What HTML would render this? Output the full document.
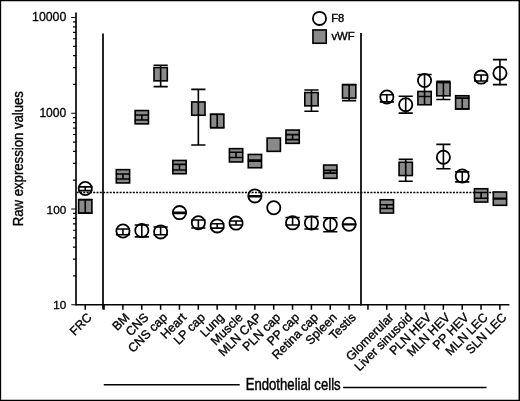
<!DOCTYPE html>
<html lang="en">
<head>
<meta charset="utf-8">
<title>Raw expression values</title>
<style>
html,body{margin:0;padding:0;background:#fff;}
body{width:520px;height:401px;overflow:hidden;position:relative;font-family:"Liberation Sans",Arial,Helvetica,sans-serif;}
</style>
</head>
<body>
<svg width="520" height="401" viewBox="0 0 520 401" style="display:block;position:absolute;left:0;top:0" font-family="'Liberation Sans', Arial, Helvetica, sans-serif" fill="#000">
<rect x="0" y="0" width="520" height="401" fill="#fff"/>
<path d="M0 0H520V401H0Z M1.15 1.15V399.8H518.55V1.15Z" fill="#000" fill-rule="evenodd"/>
<circle cx="85.25" cy="188.50" r="6.6" fill="#fff" stroke="#000" stroke-width="1.8"/>
<path d="M85.25 186.90V190.60M78.15 186.90H92.35M78.15 190.60H92.35" stroke="#000" stroke-width="1.6" fill="none"/>
<circle cx="122.95" cy="231.00" r="6.6" fill="#fff" stroke="#000" stroke-width="1.8"/>
<path d="M122.95 229.00V234.80M115.85 229.00H130.05M115.85 234.80H130.05" stroke="#000" stroke-width="1.6" fill="none"/>
<circle cx="141.80" cy="230.50" r="6.6" fill="#fff" stroke="#000" stroke-width="1.8"/>
<path d="M141.80 225.00V236.90M134.70 225.00H148.90M134.70 236.90H148.90" stroke="#000" stroke-width="1.6" fill="none"/>
<circle cx="160.65" cy="231.90" r="6.6" fill="#fff" stroke="#000" stroke-width="1.8"/>
<path d="M160.65 227.00V234.75M153.55 227.00H167.75M153.55 234.75H167.75" stroke="#000" stroke-width="1.6" fill="none"/>
<circle cx="179.50" cy="212.60" r="6.6" fill="#fff" stroke="#000" stroke-width="1.8"/>
<path d="M179.50 212.20V213.40M172.40 212.20H186.60M172.40 213.40H186.60" stroke="#000" stroke-width="1.6" fill="none"/>
<circle cx="198.35" cy="222.80" r="6.6" fill="#fff" stroke="#000" stroke-width="1.8"/>
<path d="M198.35 220.00V228.00M191.25 220.00H205.45M191.25 228.00H205.45" stroke="#000" stroke-width="1.6" fill="none"/>
<circle cx="217.20" cy="225.90" r="6.6" fill="#fff" stroke="#000" stroke-width="1.8"/>
<path d="M217.20 223.75V228.10M210.10 223.75H224.30M210.10 228.10H224.30" stroke="#000" stroke-width="1.6" fill="none"/>
<circle cx="236.05" cy="223.10" r="6.6" fill="#fff" stroke="#000" stroke-width="1.8"/>
<path d="M236.05 221.00V225.00M228.95 221.00H243.15M228.95 225.00H243.15" stroke="#000" stroke-width="1.6" fill="none"/>
<circle cx="254.90" cy="195.90" r="6.6" fill="#fff" stroke="#000" stroke-width="1.8"/>
<path d="M254.90 195.70V196.70M247.80 195.70H262.00M247.80 196.70H262.00" stroke="#000" stroke-width="1.6" fill="none"/>
<circle cx="273.75" cy="207.70" r="6.6" fill="#fff" stroke="#000" stroke-width="1.8"/>
<circle cx="292.60" cy="222.85" r="6.6" fill="#fff" stroke="#000" stroke-width="1.8"/>
<path d="M292.60 217.50V225.00M285.50 217.50H299.70M285.50 225.00H299.70" stroke="#000" stroke-width="1.6" fill="none"/>
<circle cx="311.45" cy="222.90" r="6.6" fill="#fff" stroke="#000" stroke-width="1.8"/>
<path d="M311.45 216.50V229.00M304.35 216.50H318.55M304.35 229.00H318.55" stroke="#000" stroke-width="1.6" fill="none"/>
<circle cx="330.30" cy="224.50" r="6.6" fill="#fff" stroke="#000" stroke-width="1.8"/>
<path d="M330.30 217.70V231.80M323.20 217.70H337.40M323.20 231.80H337.40" stroke="#000" stroke-width="1.6" fill="none"/>
<circle cx="349.15" cy="224.30" r="6.6" fill="#fff" stroke="#000" stroke-width="1.8"/>
<path d="M349.15 224.00V224.60M342.05 224.00H356.25M342.05 224.60H356.25" stroke="#000" stroke-width="1.6" fill="none"/>
<circle cx="386.85" cy="97.00" r="6.6" fill="#fff" stroke="#000" stroke-width="1.8"/>
<path d="M386.85 94.75V101.90M379.75 94.75H393.95M379.75 101.90H393.95" stroke="#000" stroke-width="1.6" fill="none"/>
<circle cx="405.70" cy="104.70" r="6.6" fill="#fff" stroke="#000" stroke-width="1.8"/>
<path d="M405.70 96.25V113.10M398.60 96.25H412.80M398.60 113.10H412.80" stroke="#000" stroke-width="1.6" fill="none"/>
<circle cx="424.55" cy="80.50" r="6.6" fill="#fff" stroke="#000" stroke-width="1.8"/>
<path d="M424.55 74.50V91.00M417.45 74.50H431.65" stroke="#000" stroke-width="1.6" fill="none"/>
<circle cx="443.40" cy="157.30" r="6.6" fill="#fff" stroke="#000" stroke-width="1.8"/>
<path d="M443.40 144.40V168.75M436.30 144.40H450.50M436.30 168.75H450.50" stroke="#000" stroke-width="1.6" fill="none"/>
<circle cx="462.25" cy="176.00" r="6.6" fill="#fff" stroke="#000" stroke-width="1.8"/>
<path d="M462.25 171.90V181.90M455.15 171.90H469.35M455.15 181.90H469.35" stroke="#000" stroke-width="1.6" fill="none"/>
<circle cx="481.10" cy="77.10" r="6.6" fill="#fff" stroke="#000" stroke-width="1.8"/>
<path d="M481.10 75.00V81.00M474.00 75.00H488.20M474.00 81.00H488.20" stroke="#000" stroke-width="1.6" fill="none"/>
<circle cx="499.95" cy="73.30" r="6.6" fill="#fff" stroke="#000" stroke-width="1.8"/>
<path d="M499.95 59.60V84.60M492.85 59.60H507.05M492.85 84.60H507.05" stroke="#000" stroke-width="1.6" fill="none"/>
<path d="M76.0 192.5H500" stroke="#000" stroke-width="1.6" stroke-dasharray="2 1.3" stroke-dashoffset="2.6" fill="none"/>
<rect x="78.60" y="199.75" width="13.3" height="13.3" fill="#8a8a8a" stroke="#000" stroke-width="1.6"/>
<path d="M85.25 199.50V213.30M78.15 199.50H92.35M78.15 213.30H92.35" stroke="#000" stroke-width="1.6" fill="none"/>
<rect x="116.30" y="169.65" width="13.3" height="13.3" fill="#8a8a8a" stroke="#000" stroke-width="1.6"/>
<path d="M122.95 174.00V179.00M115.85 174.00H130.05M115.85 179.00H130.05" stroke="#000" stroke-width="1.6" fill="none"/>
<rect x="135.15" y="110.55" width="13.3" height="13.3" fill="#8a8a8a" stroke="#000" stroke-width="1.6"/>
<path d="M141.80 115.00V120.00M134.70 115.00H148.90M134.70 120.00H148.90" stroke="#000" stroke-width="1.6" fill="none"/>
<rect x="154.00" y="67.55" width="13.3" height="13.3" fill="#8a8a8a" stroke="#000" stroke-width="1.6"/>
<path d="M160.65 65.25V86.60M153.55 65.25H167.75M153.55 86.60H167.75" stroke="#000" stroke-width="1.6" fill="none"/>
<rect x="172.85" y="160.45" width="13.3" height="13.3" fill="#8a8a8a" stroke="#000" stroke-width="1.6"/>
<path d="M179.50 164.40V170.00M172.40 164.40H186.60M172.40 170.00H186.60" stroke="#000" stroke-width="1.6" fill="none"/>
<rect x="191.70" y="101.95" width="13.3" height="13.3" fill="#8a8a8a" stroke="#000" stroke-width="1.6"/>
<path d="M198.35 89.40V145.00M191.25 89.40H205.45M191.25 145.00H205.45" stroke="#000" stroke-width="1.6" fill="none"/>
<rect x="210.55" y="114.35" width="13.3" height="13.3" fill="#8a8a8a" stroke="#000" stroke-width="1.6"/>
<path d="M217.20 114.30V127.80M210.10 114.30H224.30M210.10 127.80H224.30" stroke="#000" stroke-width="1.6" fill="none"/>
<rect x="229.40" y="148.65" width="13.3" height="13.3" fill="#8a8a8a" stroke="#000" stroke-width="1.6"/>
<path d="M236.05 152.25V157.50M228.95 152.25H243.15M228.95 157.50H243.15" stroke="#000" stroke-width="1.6" fill="none"/>
<rect x="248.25" y="154.45" width="13.3" height="13.3" fill="#8a8a8a" stroke="#000" stroke-width="1.6"/>
<path d="M254.90 160.10V161.10M247.80 160.10H262.00M247.80 161.10H262.00" stroke="#000" stroke-width="1.6" fill="none"/>
<rect x="267.10" y="138.05" width="13.3" height="13.3" fill="#8a8a8a" stroke="#000" stroke-width="1.6"/>
<rect x="285.95" y="130.05" width="13.3" height="13.3" fill="#8a8a8a" stroke="#000" stroke-width="1.6"/>
<path d="M292.60 134.60V139.60M285.50 134.60H299.70M285.50 139.60H299.70" stroke="#000" stroke-width="1.6" fill="none"/>
<rect x="304.80" y="92.55" width="13.3" height="13.3" fill="#8a8a8a" stroke="#000" stroke-width="1.6"/>
<path d="M311.45 90.00V111.25M304.35 90.00H318.55M304.35 111.25H318.55" stroke="#000" stroke-width="1.6" fill="none"/>
<rect x="323.65" y="165.05" width="13.3" height="13.3" fill="#8a8a8a" stroke="#000" stroke-width="1.6"/>
<path d="M330.30 170.40V173.10M323.20 170.40H337.40M323.20 173.10H337.40" stroke="#000" stroke-width="1.6" fill="none"/>
<rect x="342.50" y="84.75" width="13.3" height="13.3" fill="#8a8a8a" stroke="#000" stroke-width="1.6"/>
<path d="M349.15 84.50V100.60M342.05 84.50H356.25M342.05 100.60H356.25" stroke="#000" stroke-width="1.6" fill="none"/>
<rect x="380.20" y="199.75" width="13.3" height="13.3" fill="#8a8a8a" stroke="#000" stroke-width="1.6"/>
<path d="M386.85 204.75V208.50M379.75 204.75H393.95M379.75 208.50H393.95" stroke="#000" stroke-width="1.6" fill="none"/>
<rect x="399.05" y="162.25" width="13.3" height="13.3" fill="#8a8a8a" stroke="#000" stroke-width="1.6"/>
<path d="M405.70 159.40V181.25M398.60 159.40H412.80M398.60 181.25H412.80" stroke="#000" stroke-width="1.6" fill="none"/>
<rect x="417.90" y="91.45" width="13.3" height="13.3" fill="#8a8a8a" stroke="#000" stroke-width="1.6"/>
<path d="M424.55 91.00V105.00" stroke="#000" stroke-width="1.6" fill="none"/>
<rect x="436.75" y="82.55" width="13.3" height="13.3" fill="#8a8a8a" stroke="#000" stroke-width="1.6"/>
<path d="M443.40 81.30V99.50M436.30 81.30H450.50M436.30 99.50H450.50" stroke="#000" stroke-width="1.6" fill="none"/>
<rect x="455.60" y="95.75" width="13.3" height="13.3" fill="#8a8a8a" stroke="#000" stroke-width="1.6"/>
<path d="M462.25 98.10V108.80M455.15 98.10H469.35M455.15 108.80H469.35" stroke="#000" stroke-width="1.6" fill="none"/>
<rect x="474.45" y="188.75" width="13.3" height="13.3" fill="#8a8a8a" stroke="#000" stroke-width="1.6"/>
<path d="M481.10 192.50V198.20M474.00 192.50H488.20M474.00 198.20H488.20" stroke="#000" stroke-width="1.6" fill="none"/>
<rect x="493.30" y="192.00" width="13.3" height="13.3" fill="#8a8a8a" stroke="#000" stroke-width="1.6"/>
<path d="M499.95 198.40V199.00M492.85 198.40H507.05M492.85 199.00H507.05" stroke="#000" stroke-width="1.6" fill="none"/>
<path d="M418.55 96.5H430.55" stroke="#000" stroke-width="1.5"/>
<path d="M76.0 12.6V305.5" stroke="#000" stroke-width="1.65" fill="none"/>
<path d="M76.0 304.75H509.4" stroke="#000" stroke-width="1.7" fill="none"/>
<path d="M71.2 304.75H76.0M73.0 275.93H76.0M73.0 259.07H76.0M73.0 247.10H76.0M73.0 237.82H76.0M73.0 230.24H76.0M73.0 223.83H76.0M73.0 218.28H76.0M73.0 213.38H76.0M71.2 209.00H76.0M73.0 180.18H76.0M73.0 163.32H76.0M73.0 151.35H76.0M73.0 142.07H76.0M73.0 134.49H76.0M73.0 128.08H76.0M73.0 122.53H76.0M73.0 117.63H76.0M71.2 113.25H76.0M73.0 84.43H76.0M73.0 67.57H76.0M73.0 55.60H76.0M73.0 46.32H76.0M73.0 38.74H76.0M73.0 32.33H76.0M73.0 26.78H76.0M73.0 21.88H76.0M71.2 17.50H76.0" stroke="#000" stroke-width="1.2" fill="none"/>
<path d="M85.20 304.75V309.75M104.05 304.75V309.75M122.90 304.75V309.75M141.75 304.75V309.75M160.60 304.75V309.75M179.45 304.75V309.75M198.30 304.75V309.75M217.15 304.75V309.75M236.00 304.75V309.75M254.85 304.75V309.75M273.70 304.75V309.75M292.55 304.75V309.75M311.40 304.75V309.75M330.25 304.75V309.75M349.10 304.75V309.75M367.95 304.75V309.75M386.80 304.75V309.75M405.65 304.75V309.75M424.50 304.75V309.75M443.35 304.75V309.75M462.20 304.75V309.75M481.05 304.75V309.75M499.90 304.75V309.75" stroke="#000" stroke-width="1.5" fill="none"/>
<path d="M103.0 33.5V309.5M361.0 33V305.5" stroke="#000" stroke-width="1.7" fill="none"/>
<text x="66.3" y="309.15" font-size="11.7" text-anchor="end" stroke="#000" stroke-width="0.3">10</text>
<text x="66.3" y="213.50" font-size="11.8" text-anchor="end" stroke="#000" stroke-width="0.3">100</text>
<text x="66.3" y="117.45" font-size="12.1" text-anchor="end" stroke="#000" stroke-width="0.3">1000</text>
<text x="66.3" y="20.90" font-size="12.3" text-anchor="end" stroke="#000" stroke-width="0.3">10000</text>
<text transform="translate(23.3 226.2) rotate(-90) scale(0.848 1)" font-size="15.5" stroke="#000" stroke-width="0.4">Raw expression values</text>
<text transform="translate(245.7 389.9) scale(0.822 1)" font-size="16" stroke="#000" stroke-width="0.45">Endothelial cells</text>
<path d="M103.75 384.75H239.7M343.1 387.5H486.5" stroke="#000" stroke-width="1.5" fill="none"/>
<circle cx="319.5" cy="18.4" r="6.6" fill="#fff" stroke="#000" stroke-width="1.8"/>
<rect x="312.95" y="29.95" width="13.3" height="13.3" fill="#8a8a8a" stroke="#000" stroke-width="1.6"/>
<text x="331.3" y="22.3" font-size="11.1" stroke="#000" stroke-width="0.4">F8</text>
<text x="331.4" y="40.4" font-size="11.3" stroke="#000" stroke-width="0.4">vWF</text>
<text transform="translate(92.70 318.15) rotate(-45)" font-size="12.4" text-anchor="end" stroke="#000" stroke-width="0.35">FRC</text>
<text transform="translate(130.40 318.15) rotate(-45)" font-size="12.4" text-anchor="end" stroke="#000" stroke-width="0.35">BM</text>
<text transform="translate(149.25 318.15) rotate(-45)" font-size="12.4" text-anchor="end" stroke="#000" stroke-width="0.35">CNS</text>
<text transform="translate(168.10 318.15) rotate(-45)" font-size="12.4" text-anchor="end" stroke="#000" stroke-width="0.35">CNS cap</text>
<text transform="translate(186.95 318.15) rotate(-45)" font-size="12.4" text-anchor="end" stroke="#000" stroke-width="0.35">Heart</text>
<text transform="translate(205.80 318.15) rotate(-45)" font-size="12.4" text-anchor="end" stroke="#000" stroke-width="0.35">LP cap</text>
<text transform="translate(224.65 318.15) rotate(-45)" font-size="12.4" text-anchor="end" stroke="#000" stroke-width="0.35">Lung</text>
<text transform="translate(243.50 318.15) rotate(-45)" font-size="12.4" text-anchor="end" stroke="#000" stroke-width="0.35">Muscle</text>
<text transform="translate(262.35 318.15) rotate(-45)" font-size="12.4" text-anchor="end" stroke="#000" stroke-width="0.35">MLN CAP</text>
<text transform="translate(281.20 318.15) rotate(-45)" font-size="12.4" text-anchor="end" stroke="#000" stroke-width="0.35">PLN cap</text>
<text transform="translate(300.05 318.15) rotate(-45)" font-size="12.4" text-anchor="end" stroke="#000" stroke-width="0.35">PP cap</text>
<text transform="translate(318.90 318.15) rotate(-45)" font-size="12.4" text-anchor="end" stroke="#000" stroke-width="0.35">Retina cap</text>
<text transform="translate(337.75 318.15) rotate(-45)" font-size="12.4" text-anchor="end" stroke="#000" stroke-width="0.35">Spleen</text>
<text transform="translate(356.60 318.15) rotate(-45)" font-size="12.4" text-anchor="end" stroke="#000" stroke-width="0.35">Testis</text>
<text transform="translate(394.30 318.15) rotate(-45)" font-size="12.4" text-anchor="end" stroke="#000" stroke-width="0.35">Glomerular</text>
<text transform="translate(413.15 318.15) rotate(-45)" font-size="12.4" text-anchor="end" stroke="#000" stroke-width="0.35">Liver sinusoid</text>
<text transform="translate(432.00 318.15) rotate(-45)" font-size="12.4" text-anchor="end" stroke="#000" stroke-width="0.35">PLN HEV</text>
<text transform="translate(450.85 318.15) rotate(-45)" font-size="12.4" text-anchor="end" stroke="#000" stroke-width="0.35">MLN HEV</text>
<text transform="translate(469.70 318.15) rotate(-45)" font-size="12.4" text-anchor="end" stroke="#000" stroke-width="0.35">PP HEV</text>
<text transform="translate(488.55 318.15) rotate(-45)" font-size="12.4" text-anchor="end" stroke="#000" stroke-width="0.35">MLN LEC</text>
<text transform="translate(507.40 318.15) rotate(-45)" font-size="12.4" text-anchor="end" stroke="#000" stroke-width="0.35">SLN LEC</text>
</svg>
</body>
</html>
